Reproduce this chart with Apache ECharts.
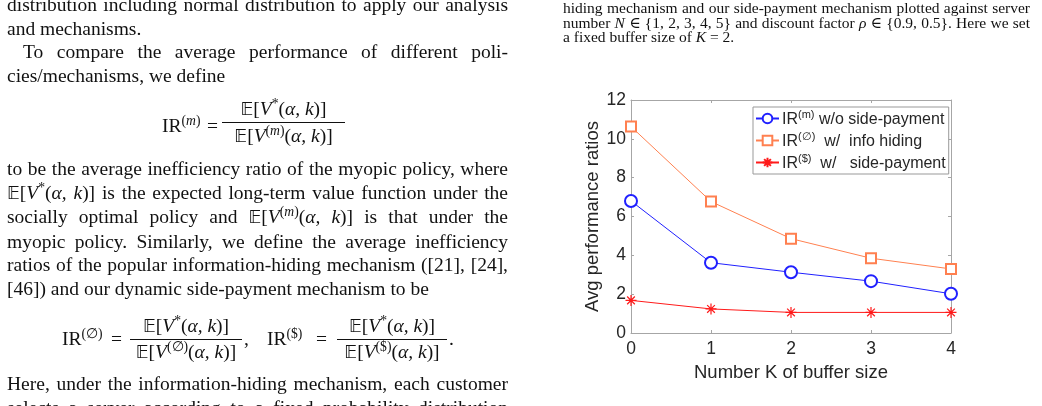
<!DOCTYPE html>
<html>
<head>
<meta charset="utf-8">
<script src="https://cdn.jsdelivr.net/npm/echarts@6/dist/echarts.min.js"></script>
<style>
  html, body { margin: 0; padding: 0; background: #fff; }
  #page { position: relative; width: 1042px; height: 406px; overflow: hidden; }
  #chart { position: absolute; left: 0; top: 0; width: 1042px; height: 406px; }
  .txt { position: absolute; font-family: "Liberation Serif", "DejaVu Serif", serif; color: #111; white-space: nowrap; }
  .col { left: 7px; width: 501px; font-size: 19.5px; line-height: 23.5px; }
  .col div { white-space: nowrap; }
  .col .j { text-align: justify; text-align-last: justify; white-space: normal; }
  .cap { left: 563px; width: 467px; font-size: 15.5px; line-height: 14.7px; }
  .cap .j { text-align: justify; text-align-last: justify; }
  .m { font-style: italic; }
  .bb { font-family: "DejaVu Sans", serif; font-size: 0.9em; }
  .p { position: absolute; font-size: 19.5px; line-height: 23.5px; }
  .bar { position: absolute; height: 1px; background: #111; }
  sup { font-size: 0.7em; line-height: 0; vertical-align: 0.55em; }
</style>
</head>
<body>
<div id="page">
  <div id="chart"></div>

  <!-- left column text -->
  <div class="txt col" style="top:-7px">
    <div class="j">distribution including normal distribution to apply our analysis</div>
    <div>and mechanisms.</div>
    <div class="j" style="padding-left:16px">To compare the average performance of different poli-</div>
    <div>cies/mechanisms, we define</div>
  </div>

  <div class="txt p" style="left:162px;top:114px">IR<sup>(<span class="m">m</span>)</sup></div>
  <div class="txt p" style="left:207px;top:114px">=</div>
  <div class="txt p" style="left:222px;width:123px;text-align:center;top:97px"><span class="bb">𝔼</span>[<span class="m">V</span><sup>*</sup>(<span class="m">α, k</span>)]</div>
  <div class="bar" style="left:222px;width:123px;top:122px"></div>
  <div class="txt p" style="left:222px;width:123px;text-align:center;top:124px"><span class="bb">𝔼</span>[<span class="m">V</span><sup>(<span class="m">m</span>)</sup>(<span class="m">α, k</span>)]</div>

  <div class="txt col" style="top:157px">
    <div class="j">to be the average inefficiency ratio of the myopic policy, where</div>
    <div class="j"><span class="bb">𝔼</span>[<span class="m">V</span><sup>*</sup>(<span class="m">α, k</span>)] is the expected long-term value function under the</div>
    <div class="j">socially optimal policy and <span class="bb">𝔼</span>[<span class="m">V</span><sup>(<span class="m">m</span>)</sup>(<span class="m">α, k</span>)] is that under the</div>
    <div class="j">myopic policy. Similarly, we define the average inefficiency</div>
    <div class="j">ratios of the popular information-hiding mechanism ([21], [24],</div>
    <div>[46]) and our dynamic side-payment mechanism to be</div>
  </div>

  <div class="txt p" style="left:62px;top:327px">IR<sup>(∅)</sup></div>
  <div class="txt p" style="left:111px;top:327px">=</div>
  <div class="txt p" style="left:130px;width:112px;text-align:center;top:314px"><span class="bb">𝔼</span>[<span class="m">V</span><sup>*</sup>(<span class="m">α, k</span>)]</div>
  <div class="bar" style="left:130px;width:112px;top:339px"></div>
  <div class="txt p" style="left:130px;width:112px;text-align:center;top:340px"><span class="bb">𝔼</span>[<span class="m">V</span><sup>(∅)</sup>(<span class="m">α, k</span>)]</div>
  <div class="txt p" style="left:244px;top:327px">,</div>
  <div class="txt p" style="left:267px;top:327px">IR<sup>($)</sup></div>
  <div class="txt p" style="left:316px;top:327px">=</div>
  <div class="txt p" style="left:337px;width:110px;text-align:center;top:314px"><span class="bb">𝔼</span>[<span class="m">V</span><sup>*</sup>(<span class="m">α, k</span>)]</div>
  <div class="bar" style="left:337px;width:110px;top:339px"></div>
  <div class="txt p" style="left:337px;width:110px;text-align:center;top:340px"><span class="bb">𝔼</span>[<span class="m">V</span><sup>($)</sup>(<span class="m">α, k</span>)]</div>
  <div class="txt p" style="left:449px;top:327px">.</div>

  <div class="txt col" style="top:372px">
    <div class="j">Here, under the information-hiding mechanism, each customer</div>
    <div class="j">selects a server according to a fixed probability distribution</div>
  </div>

  <!-- caption, right column -->
  <div class="txt cap" style="top:1px">
    <div class="j">hiding mechanism and our side-payment mechanism plotted against server</div>
    <div class="j">number <span class="m">N</span> ∈ {1, 2, 3, 4, 5} and discount factor <span class="m">ρ</span> ∈ {0.9, 0.5}. Here we set</div>
    <div>a fixed buffer size of <span class="m">K</span> = 2.</div>
  </div>
</div>

<script>
// chart data
var bufferSize = [0, 1, 2, 3, 4];
var irMyopic = [6.8, 3.62, 3.13, 2.67, 2.02];
var irHiding = [10.63, 6.77, 4.86, 3.85, 3.3];
var irSidePay = [1.68, 1.24, 1.06, 1.06, 1.06];
var legendLabels = {
  myopic: '{s|(m)}',
  hiding: '{s|(∅)}',
  sidepay: '{s|($)}'
};
var legendTails = {
  myopic: ' w/o side-payment',
  hiding: '  w/  info hiding',
  sidepay: '  w/   side-payment'
};

function pairs(xs, ys) {
  return xs.map(function (x, i) { return [x, ys[i]]; });
}

var font = 'Liberation Sans, Arial, sans-serif';
var frame = '#a6a6a6';
var ink = '#262626';
var star = 'path://M0,5L10,5M5,0L5,10M1.5,1.5L8.5,8.5M8.5,1.5L1.5,8.5';

var chart = echarts.init(document.getElementById('chart'));

function axisBase(extra) {
  var a = {
    type: 'value',
    axisLine: { show: true, onZero: false, lineStyle: { color: frame, width: 1 } },
    axisTick: { show: true, inside: true, length: 3, lineStyle: { color: frame } },
    splitLine: { show: false },
    axisLabel: { color: ink, fontSize: 17.5, fontFamily: font }
  };
  return Object.assign(a, extra);
}

chart.setOption({
  animation: false,
  grid: { left: 631, top: 100, width: 320, height: 233, containLabel: false },
  xAxis: [
    axisBase({
      min: 0, max: 4, interval: 1, position: 'bottom',
      axisLabel: { color: ink, fontSize: 17.5, fontFamily: font, margin: 7 },
      name: 'Number K of buffer size', nameLocation: 'middle', nameGap: 30,
      nameTextStyle: { color: ink, fontSize: 18.5, fontFamily: font }
    }),
    axisBase({ min: 0, max: 4, interval: 1, position: 'top', axisLabel: { show: false } })
  ],
  yAxis: [
    axisBase({
      min: 0, max: 12, interval: 2, position: 'left',
      axisLabel: { color: ink, fontSize: 17.5, fontFamily: font, margin: 5 },
      name: 'Avg performance ratios', nameLocation: 'middle', nameGap: 22,
      nameTextStyle: { color: ink, fontSize: 18.5, fontFamily: font }
    }),
    axisBase({ min: 0, max: 12, interval: 2, position: 'right', axisLabel: { show: false } })
  ],
  legend: {
    orient: 'vertical',
    left: 753, top: 107,
    padding: [2, 3, 2, 2],
    itemGap: 3,
    itemWidth: 23, itemHeight: 12,
    backgroundColor: '#fff',
    borderColor: '#999', borderWidth: 1, borderRadius: 0,
    data: ['myopic', 'hiding', 'sidepay'],
    formatter: function (name) {
      return '{b|IR}' + legendLabels[name] + '{b|' + legendTails[name] + '}';
    },
    textStyle: {
      color: ink, fontFamily: font, padding: [0, 0, 0, -2],
      rich: {
        b: { fontSize: 16, fontFamily: font, color: ink, lineHeight: 18, padding: [3, 0, 0, 0] },
        s: { fontSize: 11, fontFamily: font, color: ink, lineHeight: 11, verticalAlign: 'top' }
      }
    }
  },
  series: [
    {
      name: 'myopic', type: 'line', data: pairs(bufferSize, irMyopic),
      symbol: 'emptyCircle', symbolSize: 12,
      lineStyle: { color: '#2020ff', width: 1 },
      itemStyle: { color: '#2020ff', borderWidth: 1 }
    },
    {
      name: 'hiding', type: 'line', data: pairs(bufferSize, irHiding),
      symbol: 'emptyRect', symbolSize: 10,
      lineStyle: { color: '#ff8050', width: 1 },
      itemStyle: { color: '#ff8050', borderWidth: 1 }
    },
    {
      name: 'sidepay', type: 'line', data: pairs(bufferSize, irSidePay),
      symbol: star, symbolSize: 11,
      lineStyle: { color: '#ff1a1a', width: 1 },
      itemStyle: { color: '#ff1a1a', borderColor: '#ff1a1a', borderWidth: 1.2 }
    }
  ]
});
</script>
</body>
</html>
